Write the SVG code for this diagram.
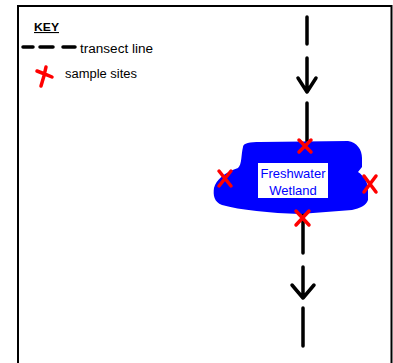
<svg xmlns="http://www.w3.org/2000/svg" width="393" height="363" viewBox="0 0 393 363">
<style>
.lbl{font-family:"Liberation Sans",Arial,sans-serif;fill:#000;}
.tr{stroke:#000;stroke-width:3.5;stroke-linecap:round;fill:none;stroke-linejoin:round;}
.x{stroke:#ff0000;stroke-width:3.5;stroke-linecap:round;fill:none;}
.wt{font-family:"Liberation Sans",Arial,sans-serif;fill:#0000ff;font-size:13px;text-anchor:middle;}
</style>
<rect width="393" height="363" fill="#fff"/>
<path d="M18,364 V6 H391.5 V364" fill="none" stroke="#000" stroke-width="2"/>
<g id="key">
<text class="lbl" x="34" y="31" font-size="11" font-weight="bold" text-decoration="underline" textLength="25" lengthAdjust="spacingAndGlyphs">KEY</text>
<path class="tr" d="M23,47 H33 M40,47 H53 M63,47 H75" stroke-width="3"/>
<text class="lbl" x="80" y="53" font-size="12" textLength="73" lengthAdjust="spacingAndGlyphs">transect line</text>
<path class="x" d="M37,71 Q45,74 52,77 M46,67 Q44,77 41,86"/>
<text class="lbl" x="65" y="78" font-size="12" textLength="72" lengthAdjust="spacingAndGlyphs">sample sites</text>
</g>
<g id="connectors">
<path class="tr" d="M307,17 V44 M307,58 V92 M298,78 L307,92 L316,78 M307,103 V145"/>
<path class="tr" d="M303,210 V253 M303,267 V298 M292,285 L303,298 L314,285 M303,308 V346"/>
</g>
<g id="wetland">
<path fill="#0000ff" d="M243,147 C243,143 250,142 260,142 L348,141 C357,142 362,150 362,158 L362,167 L358,172 C364,176 368,182 368,190 L368,200 C366,206 360,208 352,210 L300,214 C270,213 240,210 222,205 C214,202 213,195 214,188 C216,180 225,172 238,168 C242,164 241,155 243,147 Z"/>
<rect x="258" y="163" width="70" height="35" fill="#fff"/>
<text class="wt" x="293" y="178">Freshwater</text>
<text class="wt" x="293" y="195">Wetland</text>
</g>
<g id="sites">
<path class="x" d="M299,140 L311,152 M311,140 L299,152"/>
<path class="x" d="M219,171 L231,186 M231,171 L219,186"/>
<path class="x" d="M364,176 L376,192 M376,176 L364,192"/>
<path class="x" d="M296,211 L309,225 M309,211 L296,225"/>
</g>
</svg>
